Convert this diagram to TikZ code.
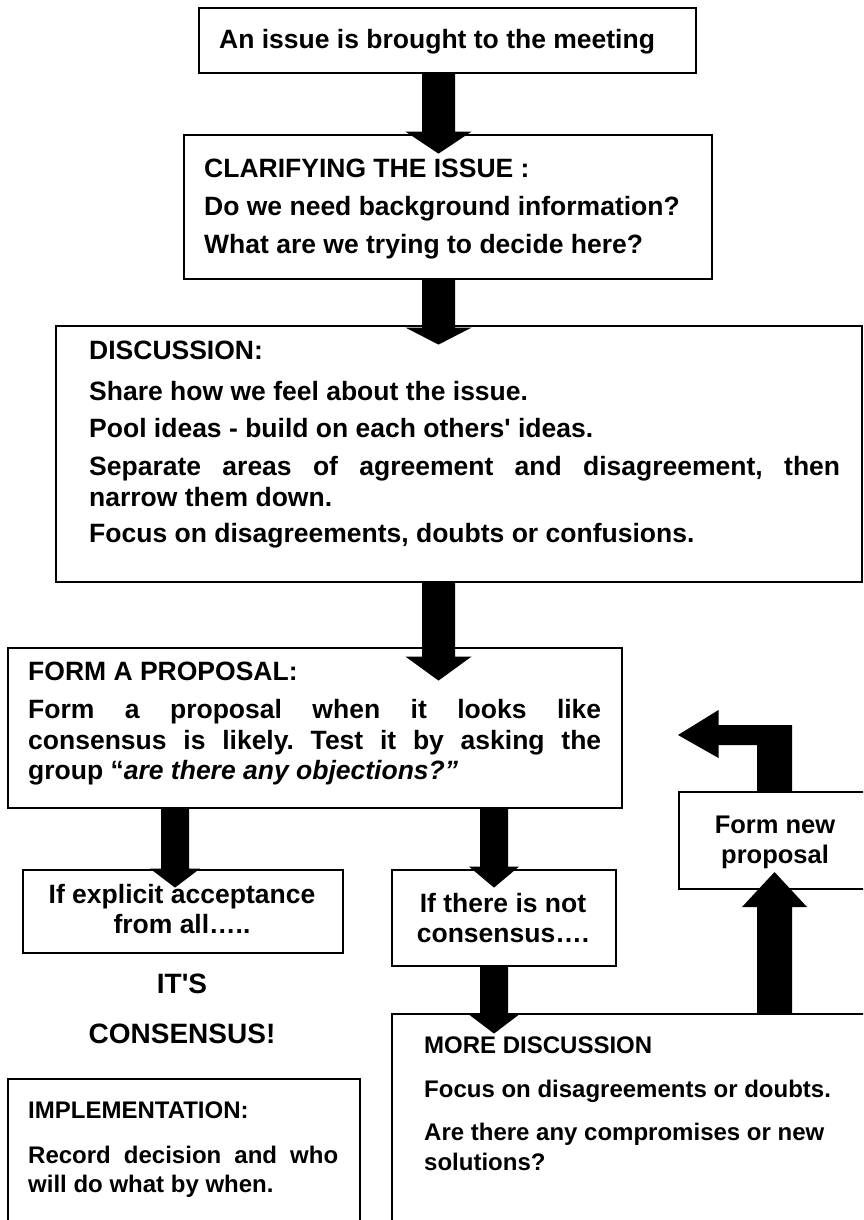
\documentclass[tikz,border=0pt]{standalone}
\usepackage{fontspec}
\setmainfont{Liberation Sans}
\usetikzlibrary{calc}
\frenchspacing
\tikzset{
  box/.style={draw=black, line width=1.6pt, fill=white, inner sep=0pt, anchor=north west},
  txt/.style={inner sep=0pt, anchor=base west, font=\fontsize{26.5}{30}\selectfont\bfseries},
  ctxt/.style={inner sep=0pt, anchor=base, font=\fontsize{26.5}{30}\selectfont\bfseries},
  stxt/.style={inner sep=0pt, anchor=base west, font=\fontsize{24}{28}\selectfont\bfseries},
  btxt/.style={inner sep=0pt, anchor=base, font=\fontsize{28}{32}\selectfont\bfseries},
  ftxt/.style={inner sep=0pt, anchor=base, font=\fontsize{25.5}{30}\selectfont\bfseries},
  blk/.style={fill=black},
}
% #1 start point, #2 shaft half width, #3 head half width, #4 head base offset, #5 tip offset
\newcommand{\blkarrow}[5]{%
  \fill[blk] ($#1+(-#2,0)$) -- ($#1+(-#2,#4)$) -- ($#1+(-#3,#4)$) -- ($#1+(0,#5)$)
    -- ($#1+(#3,#4)$) -- ($#1+(#2,#4)$) -- ($#1+(#2,0)$) -- cycle;}
\begin{document}
\frenchspacing
\begin{tikzpicture}[x=1pt,y=-1pt]
\useasboundingbox (0,0) rectangle (863,1220);
\clip (0,0) rectangle (863,1220);
% boxes
\node[box, minimum width=497pt, minimum height=65pt]  (b1) at (198,7) {};
\node[box, minimum width=528pt, minimum height=144pt] (b2) at (183,134) {};
\node[box, minimum width=806pt, minimum height=256pt] (b3) at (55,325) {};
\node[box, minimum width=614pt, minimum height=160pt] (b4) at (7,647) {};
\node[box, minimum width=320pt, minimum height=83pt]  (b5) at (22,869) {};
\node[box, minimum width=224pt, minimum height=96pt]  (b6) at (391,869) {};
\node[box, minimum width=352pt, minimum height=170pt] (b7) at (7,1078) {};
\node[box, minimum width=490pt, minimum height=230pt] (b8) at (391,1013) {};
\node[box, minimum width=194pt, minimum height=97pt]  (b9) at (678,791) {};
% arrow columns
\coordinate (a1x) at (438.5,0);
\coordinate (a2x) at (175,0);
\coordinate (a3x) at (494,0);
\coordinate (a4x) at (774.5,0);
% arrows
\blkarrow{(a1x |- b1.south)}{16.5}{33}{58}{80}
\blkarrow{(a1x |- b2.south)}{16.5}{33}{48}{65}
\blkarrow{(a1x |- b3.south)}{16.5}{33}{74}{98}
\blkarrow{(a2x |- b4.south)}{14}{25}{60}{79}
\blkarrow{(a3x |- b4.south)}{14}{25}{58}{79}
\blkarrow{(a3x |- b6.south)}{14}{25}{48}{67}
\blkarrow{(a4x |- b8.north)}{17.5}{32.5}{-106}{-141}
\coordinate (s9) at (a4x |- b9.north);
\fill[blk] ($(s9)+(-17.5,0)$) -- ($(s9)+(-17.5,-46)$) -- ($(s9)+(-56,-46)$) -- ($(s9)+(-56,-33)$)
  -- ($(s9)+(-96.5,-56)$) -- ($(s9)+(-56,-81)$) -- ($(s9)+(-56,-66)$) -- ($(s9)+(17.5,-66)$)
  -- ($(s9)+(17.5,0)$) -- cycle;
% texts
\node[txt] (t1) at (219,49) {An issue is brought to the meeting};
\node[txt] (t2a) at (204,177) {CLARIFYING THE ISSUE :};
\node[txt] (t2b) at (204,215) {Do we need background information?};
\node[txt] (t2c) at (204,253) {What are we trying to decide here?};
\node[txt] (t3a) at (89,359) {DISCUSSION:};
\node[txt] (t3b) at (89,400) {Share how we feel about the issue.};
\node[txt] (t3c) at (89,437) {Pool ideas - build on each others\textquotesingle\ ideas.};
\node[txt] (t3d) at (89,475) {\makebox[751pt][s]{Separate areas of agreement and disagreement, then}};
\node[txt] (t3e) at (89,506) {narrow them down.};
\node[txt] (t3f) at (89,542) {Focus on disagreements, doubts or confusions.};
\node[txt] (t4a) at (28,680) {FORM A PROPOSAL:};
\node[txt] (t4b) at (28,718) {\makebox[573pt][s]{Form a proposal when it looks like}};
\node[txt] (t4c) at (28,749) {\makebox[573pt][s]{consensus is likely. Test it by asking the}};
\node[txt] (t4d) at (28,779) {group “\textit{are there any objections?”}};
\node[ctxt] (t5a) at (182,903) {If explicit acceptance};
\node[ctxt] (t5b) at (182,933) {from all…..};
\node[ctxt] (t6a) at (503,912) {If there is not};
\node[ctxt] (t6b) at (503,942) {consensus….};
\node[btxt] (c1) at (182,993) {IT\textquotesingle S};
\node[btxt] (c2) at (182,1043) {CONSENSUS!};
\node[stxt] (t7a) at (28,1118) {IMPLEMENTATION:};
\node[stxt] (t7b) at (28,1163) {\makebox[310pt][s]{Record decision and who}};
\node[stxt] (t7c) at (28,1192) {will do what by when.};
\node[stxt] (t8a) at (424,1053) {MORE DISCUSSION};
\node[stxt] (t8b) at (424,1097) {Focus on disagreements or doubts.};
\node[stxt] (t8c) at (424,1140) {Are there any compromises or new};
\node[stxt] (t8d) at (424,1170) {solutions?};
\node[ftxt] (t9a) at (775,833) {Form new};
\node[ftxt] (t9b) at (775,863) {proposal};
\end{tikzpicture}
\end{document}
